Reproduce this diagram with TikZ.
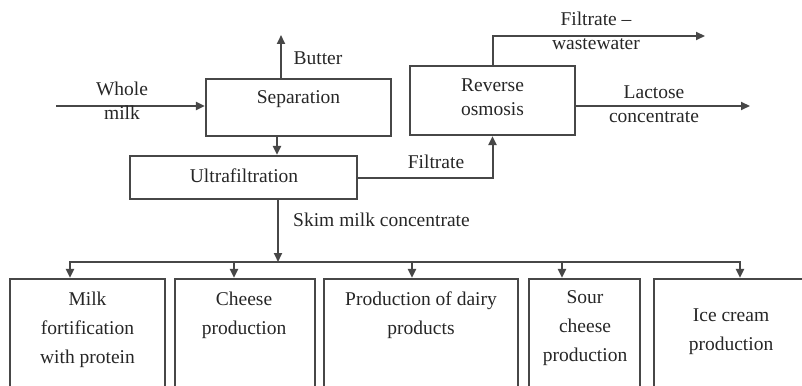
\documentclass[tikz,border=0pt]{standalone}
\usepackage{fontspec}
\setmainfont{Liberation Serif}
\usetikzlibrary{arrows.meta,calc}
\begin{document}
\begin{tikzpicture}[x=1pt,y=-1pt,
  line/.style={draw=black!72, line width=2pt},
  arr/.style={line, -{Triangle[length=9pt,width=8pt]}},
  barr/.style={line, {Triangle[length=9pt,width=8pt]}-{Triangle[length=9pt,width=8pt]}},
  box/.style={draw=black!72, line width=2.2pt, rectangle, inner sep=0pt},
  txt/.style={text=black!85, font=\fontsize{19.5}{24}\selectfont, align=center, inner sep=0pt},
  btxt/.style={txt, font=\fontsize{19.5}{29}\selectfont},
]
\clip (0,0) rectangle (802,385);
% upper boxes
\node[box, minimum width=185pt, minimum height=57pt] (sep) at (298.5,107.5) {};
\node[txt] (sepT) at (298.5,99) {Separation};
\node[box, minimum width=227pt, minimum height=43pt] (uf) at (243.5,177.5) {};
\node[txt] (ufT) at (244,176) {Ultrafiltration};
\node[box, minimum width=165pt, minimum height=69pt] (ro) at (492.5,100.5) {};
\node[txt] (roT) at (492.5,97) {Reverse\\osmosis};
% whole milk
\coordinate (wmstart) at (56,106);
\draw[arr] (wmstart) -- (sep.west |- wmstart);
\node[txt] (wm) at (122,101) {Whole\\milk};
% butter
\coordinate (butter) at (281,35);
\draw[arr] (sep.north -| butter) -- (butter);
\node[txt] (butT) at (318,58) {Butter};
% separation -> UF
\coordinate (c1) at (277,0);
\draw[arr] (sep.south -| c1) -- (uf.north -| c1);
% filtrate
\draw[arr] (uf.east) -| (ro.south);
\node[txt] (filT) at (436,162) {Filtrate};
% wastewater
\coordinate (ww) at (705,36);
\draw[arr] (ro.north) |- (ww);
\node[txt] (wwT) at (596,31) {Filtrate –\\wastewater};
% lactose
\coordinate (lc) at (750,106);
\draw[arr] (ro.east |- lc) -- (lc);
\node[txt] (lcT) at (654,104) {Lactose\\concentrate};
% bottom boxes
\node[box, minimum width=155pt, minimum height=121pt] (b1) at (87.5,339.5) {};
\node[box, minimum width=140pt, minimum height=121pt] (b2) at (245,339.5) {};
\node[box, minimum width=194pt, minimum height=121pt] (b3) at (421,339.5) {};
\node[box, minimum width=111pt, minimum height=121pt] (b4) at (584.5,339.5) {};
\node[box, minimum width=166pt, minimum height=121pt] (b5) at (737,339.5) {};
\node[btxt, anchor=north] (b1T) at (87.5,292) {Milk\\fortification\\with protein};
\node[btxt, anchor=north] (b2T) at (244,292) {Cheese\\production};
\node[btxt, anchor=north] (b3T) at (421,292) {Production of dairy\\products};
\node[btxt, anchor=north] (b4T) at (585,290) {Sour\\cheese\\production};
\node[btxt] (b5T) at (731,332) {Ice cream\\production};
% skim milk
\coordinate (busM) at (278,262);
\draw[arr] (uf.south -| busM) -- (busM);
\node[txt, anchor=west] (skT) at (293,220) {Skim milk concentrate};
% bus
\coordinate (busL) at (70,262);
\coordinate (busR) at (740,262);
\coordinate (bus2) at (234,262);
\coordinate (bus3) at (412,262);
\coordinate (bus4) at (562,262);
\draw[barr] (busL |- b1.north) -- (busL) -- (busR) -- (busR |- b5.north);
\draw[arr] (bus2) -- (bus2 |- b2.north);
\draw[arr] (bus3) -- (bus3 |- b3.north);
\draw[arr] (bus4) -- (bus4 |- b4.north);
\end{tikzpicture}
\end{document}
